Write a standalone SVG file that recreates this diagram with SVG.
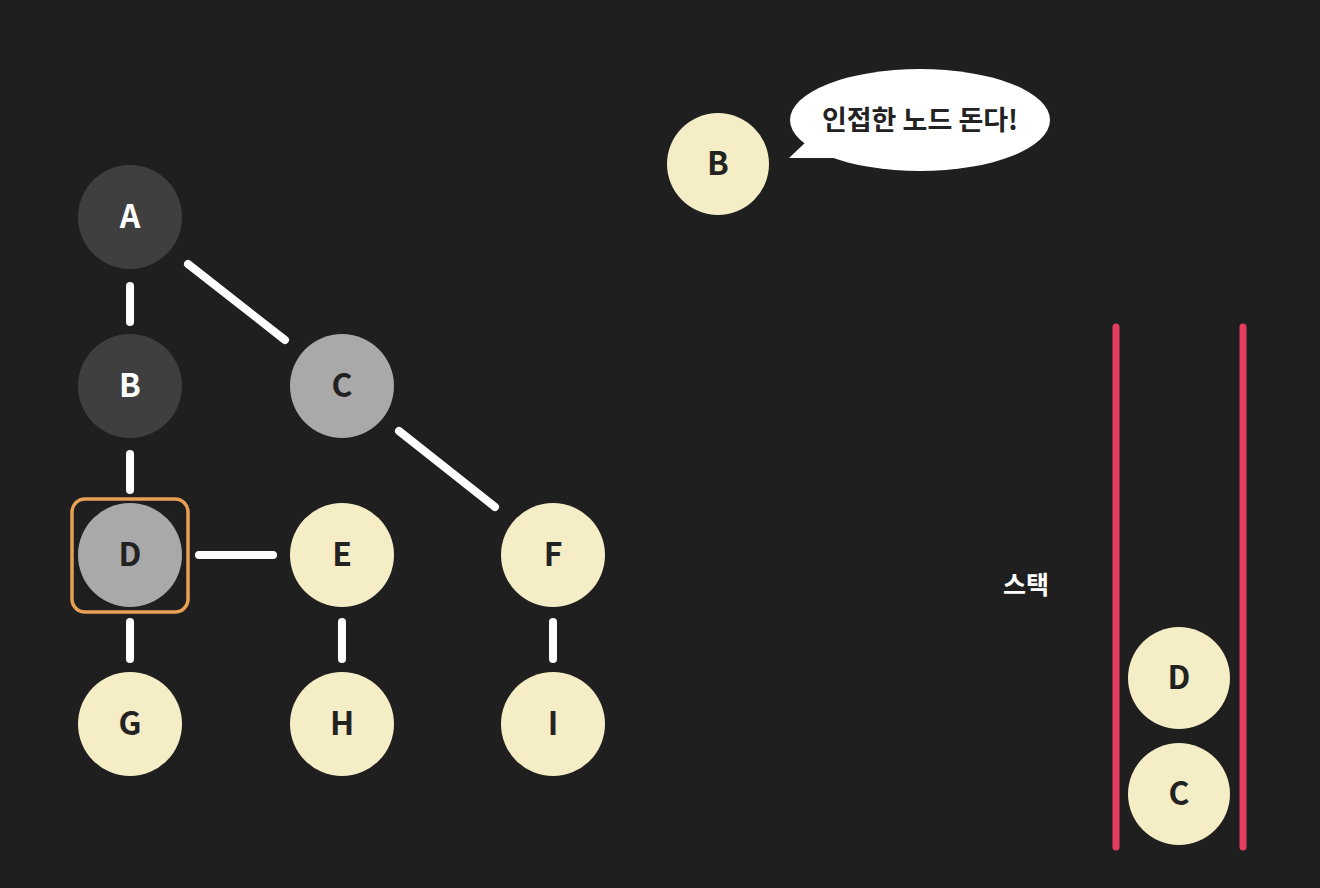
<svg xmlns="http://www.w3.org/2000/svg" width="1320" height="888" viewBox="0 0 1320 888">
<style>
.lbl{font-family:"Noto Sans CJK KR",sans-serif;font-weight:600;font-size:32px;text-anchor:middle;dominant-baseline:central}
.dark{fill:#3f3f3f}
.gray{fill:#a9a9a9}
.cream{fill:#f5edc6}
.tl{fill:#ffffff}
.td{fill:#222222}
.edge{stroke:#ffffff;stroke-width:8;stroke-linecap:round;fill:none}
.stack{stroke:#e63c5e;stroke-width:7;stroke-linecap:round}
</style>
<rect width="1320" height="888" fill="#1f1f1f"/>
<g id="connectors">
<line class="edge" x1="130" y1="286" x2="130" y2="322"/>
<line class="edge" x1="188" y1="264" x2="285" y2="340"/>
<line class="edge" x1="130" y1="454" x2="130" y2="490"/>
<line class="edge" x1="399" y1="431" x2="495" y2="507"/>
<line class="edge" x1="199" y1="555" x2="273" y2="555"/>
<line class="edge" x1="130" y1="622" x2="130" y2="659"/>
<line class="edge" x1="342" y1="622" x2="342" y2="659"/>
<line class="edge" x1="553" y1="622" x2="553" y2="659"/>
</g>
<g id="node-A"><circle class="dark" cx="130" cy="217" r="52"/><text class="lbl tl" x="130" y="214">A</text></g>
<g id="node-B"><circle class="dark" cx="130" cy="386" r="52"/><text class="lbl tl" x="130" y="383">B</text></g>
<g id="node-C"><circle class="gray" cx="342" cy="386" r="52"/><text class="lbl td" x="342" y="383">C</text></g>
<g id="node-D"><circle class="gray" cx="130" cy="555" r="52"/><text class="lbl td" x="130" y="552">D</text>
<rect x="72" y="499" width="116" height="113" rx="13" fill="none" stroke="#e8a054" stroke-width="3.5"/></g>
<g id="node-E"><circle class="cream" cx="342" cy="555" r="52"/><text class="lbl td" x="342" y="552">E</text></g>
<g id="node-F"><circle class="cream" cx="553" cy="555" r="52"/><text class="lbl td" x="553" y="552">F</text></g>
<g id="node-G"><circle class="cream" cx="130" cy="724" r="52"/><text class="lbl td" x="130" y="721">G</text></g>
<g id="node-H"><circle class="cream" cx="342" cy="724" r="52"/><text class="lbl td" x="342" y="721">H</text></g>
<g id="node-I"><circle class="cream" cx="553" cy="724" r="52"/><text class="lbl td" x="553" y="721">I</text></g>
<g id="current-B"><circle class="cream" cx="718" cy="164" r="51"/><text class="lbl td" x="718" y="161">B</text></g>
<g id="bubble">
<ellipse cx="920" cy="120" rx="130" ry="51" fill="#ffffff"/>
<path d="M808,140 L789,158 L840,158 Z" fill="#ffffff"/>
<text x="920" y="118" style="font-family:'Noto Sans CJK KR',sans-serif;font-weight:700;font-size:27px;text-anchor:middle;dominant-baseline:central;fill:#222222">인접한 노드 돈다!</text>
</g>
<g id="stack">
<line class="stack" x1="1116" y1="327" x2="1116" y2="847"/>
<line class="stack" x1="1243" y1="327" x2="1243" y2="847"/>
<text x="1026" y="583" style="font-family:'Noto Sans CJK KR',sans-serif;font-weight:700;font-size:25px;text-anchor:middle;dominant-baseline:central;fill:#ffffff">스택</text>
</g>
<g id="stack-D"><circle class="cream" cx="1179" cy="678" r="51"/><text class="lbl td" x="1179" y="675">D</text></g>
<g id="stack-C"><circle class="cream" cx="1179" cy="794" r="51"/><text class="lbl td" x="1179" y="791">C</text></g>
</svg>
